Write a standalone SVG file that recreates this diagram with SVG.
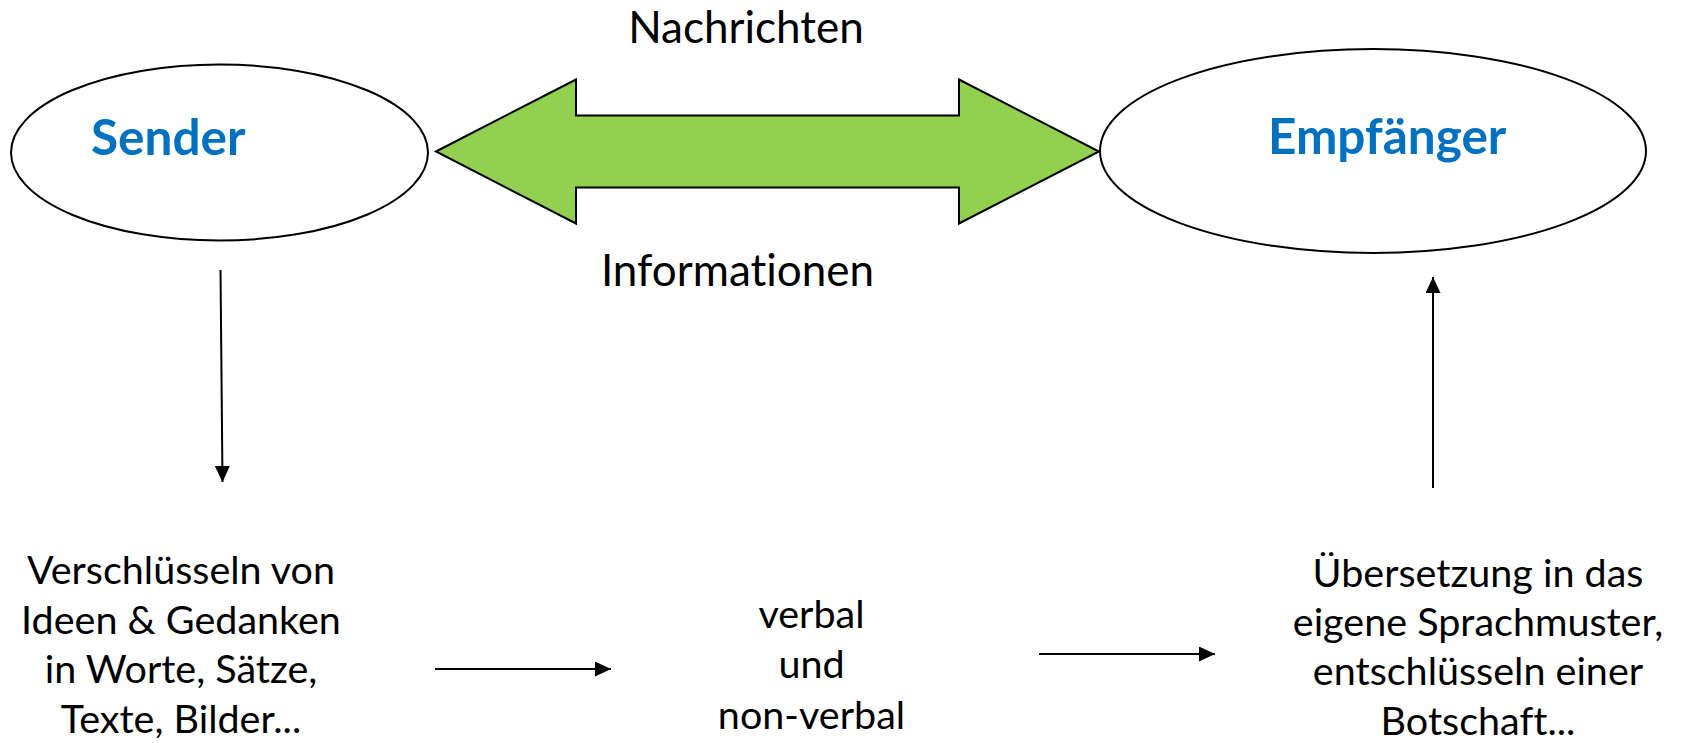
<svg xmlns="http://www.w3.org/2000/svg" width="1683" height="743" viewBox="0 0 1683 743">
<defs>
<style>
text{font-variant-ligatures:none;font-feature-settings:"liga" 0,"clig" 0}
.ell{fill:#fff;stroke:#000;stroke-width:2}
.title{font-family:Lato,"Liberation Sans",sans-serif;font-weight:bold;font-size:49.5px;fill:#0070C0}
.lbl{font-family:Lato,"Liberation Sans",sans-serif;font-size:44px;fill:#000;text-anchor:middle}
.txt{font-family:Lato,"Liberation Sans",sans-serif;font-size:39.5px;fill:#000;text-anchor:middle}
.con{stroke:#000;stroke-width:2;fill:none;marker-end:url(#ah)}
</style>
<marker id="ah" markerUnits="userSpaceOnUse" markerWidth="16" markerHeight="16" refX="16" refY="7.5" orient="auto">
<path d="M0,0 L16,7.5 L0,15 z" fill="#000"/>
</marker>
</defs>
<rect width="1683" height="743" fill="#fff"/>
<g id="sender">
<ellipse class="ell" cx="219.5" cy="152.5" rx="208.5" ry="88"/>
<text class="title" x="91" y="155">Sender</text>
</g>
<g id="empfaenger">
<ellipse class="ell" cx="1373" cy="151" rx="273" ry="102"/>
<text class="title" x="1268" y="154">Empfänger</text>
</g>
<g id="doppelpfeil">
<polygon points="436,151.5 576,79.5 576,115.5 959,115.5 959,79.5 1099,151.5 959,223.5 959,187.5 576,187.5 576,223.5" fill="#92D050" stroke="#000" stroke-width="2" stroke-linejoin="miter"/>
<text class="lbl" x="746" y="43">Nachrichten</text>
<text class="lbl" x="737.5" y="286">Informationen</text>
</g>
<g id="verschluesseln">
<text class="txt" x="181" y="584">Verschlüsseln von</text>
<text class="txt" x="181" y="633.5">Ideen &amp; Gedanken</text>
<text class="txt" x="181" y="683">in Worte, Sätze,</text>
<text class="txt" x="181" y="732.5">Texte, Bilder...</text>
</g>
<g id="verbal">
<text class="txt" x="811.5" y="627.7">verbal</text>
<text class="txt" x="811.5" y="678.3">und</text>
<text class="txt" x="811.5" y="729.3">non-verbal</text>
</g>
<g id="uebersetzung">
<text class="txt" x="1478" y="587">Übersetzung in das</text>
<text class="txt" x="1478" y="636">eigene Sprachmuster,</text>
<text class="txt" x="1478" y="685">entschlüsseln einer</text>
<text class="txt" x="1478" y="734.5">Botschaft...</text>
</g>
<g id="connectors">
<line class="con" x1="220.5" y1="270" x2="222.5" y2="482"/>
<line class="con" x1="435" y1="669" x2="611" y2="669"/>
<line class="con" x1="1039" y1="654" x2="1215" y2="654"/>
<line class="con" x1="1433" y1="488" x2="1433" y2="277"/>
</g>
</svg>
